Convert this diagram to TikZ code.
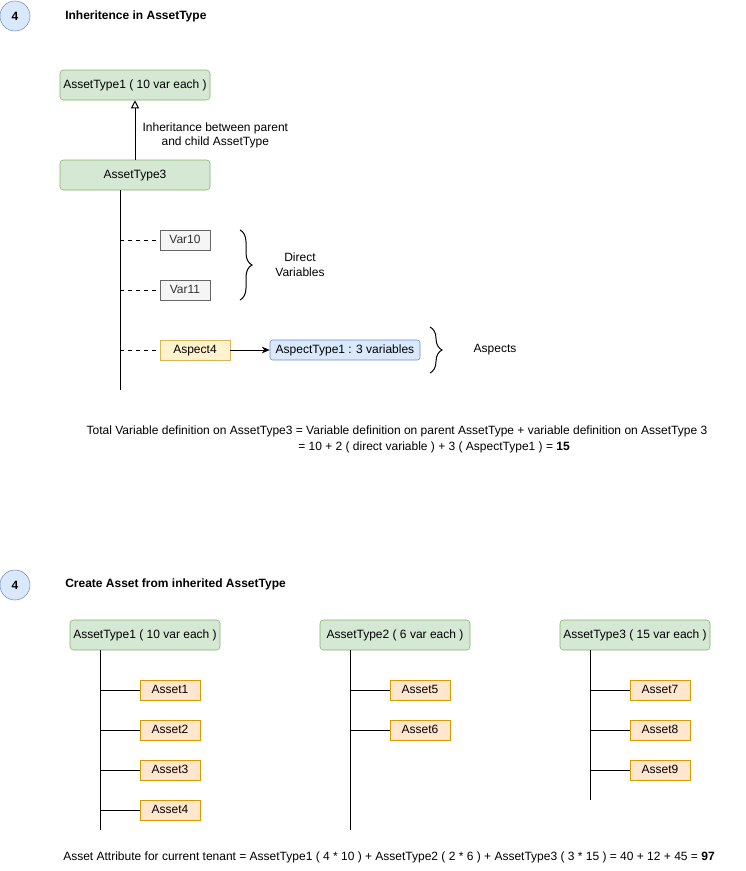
\documentclass[tikz,border=0pt]{standalone}
\usepackage{fontspec}
\setmainfont{Liberation Sans}
\usetikzlibrary{arrows.meta,positioning,decorations.pathreplacing}
\definecolor{typefill}{HTML}{D5E8D4}
\definecolor{typeline}{HTML}{82B366}
\definecolor{aspfill}{HTML}{FFF2CC}
\definecolor{aspline}{HTML}{D6B656}
\definecolor{bluefill}{HTML}{DAE8FC}
\definecolor{blueline}{HTML}{6C8EBF}
\definecolor{varfill}{HTML}{F5F5F5}
\definecolor{varline}{HTML}{666666}
\definecolor{vartext}{HTML}{333333}
\definecolor{assetfill}{HTML}{FFE6CC}
\definecolor{assetline}{HTML}{D79B00}

\begin{document}
\begin{tikzpicture}[
    x=0.75pt, y=-0.75pt,
    font=\fontsize{9pt}{11pt}\selectfont,
    boxtext/.style={inner sep=0pt, text height=6.6pt, text depth=1.6pt},
    typebox/.style={rectangle, rounded corners=2.5pt, draw=typeline, fill=typefill, minimum width=112.5pt, minimum height=22.5pt, boxtext},
    varbox/.style={rectangle, draw=varline, fill=varfill, text=vartext, minimum width=37.5pt, minimum height=15pt, boxtext},
    aspbox/.style={rectangle, draw=aspline, fill=aspfill, minimum width=52.5pt, minimum height=15pt, boxtext},
    asptype/.style={rectangle, rounded corners=2pt, draw=blueline, fill=bluefill, minimum width=112.5pt, minimum height=15pt, boxtext},
    assetbox/.style={rectangle, draw=assetline, fill=assetfill, minimum width=45pt, minimum height=15pt, boxtext},
    stepnum/.style={circle, draw=blueline, fill=bluefill, minimum size=22.5pt, inner sep=0pt, font=\fontsize{9pt}{11pt}\selectfont\bfseries},
    heading/.style={anchor=west, inner sep=0pt, font=\fontsize{9pt}{11pt}\selectfont\bfseries},
    curly/.style={decorate, decoration={brace, amplitude=9pt}, line width=0.75pt},
    trunk/.style={line width=0.75pt},
    arrow/.style={-{Stealth[length=6pt,width=5pt]}, line width=0.75pt}
]
\useasboundingbox (0,0) rectangle (746,871);

% inheritance part
\node[stepnum] (num1) at (15,16) {4};
\node[heading] (title1) at (65,16) {Inheritence in AssetType};

\node[typebox] (at1) at (135,85) {AssetType1 ( 10 var each )};
\node[typebox] (at3) at (135,175) {AssetType3};
\draw[-{Triangle[open,length=6pt,width=6pt]}, line width=0.75pt] (at3) -- (at1)
    node[midway, right=2pt, yshift=-4pt, align=center] {Inheritance between parent\\and child AssetType};

\coordinate (t1) at (120,390);
\draw[trunk] (at3.south -| t1) -- (t1);

\node[varbox] (var10) at (185,240) {Var10};
\node[varbox] (var11) at (185,290) {Var11};
\node[aspbox] (asp4) at (195,350) {Aspect4};
\node[asptype] (aspt1) at (345,350) {AspectType1 : 3 variables};

\draw[dashed] (var10.west -| t1) -- (var10.west);
\draw[dashed] (var11.west -| t1) -- (var11.west);
\draw[dashed] (asp4.west -| t1) -- (asp4.west);
\draw[arrow] (asp4) -- (aspt1);

\coordinate (b1top) at (240,230);
\coordinate (b1bot) at (240,300);
\draw[curly] (b1top) -- (b1bot);
\node[align=center] (direct) at (300,265) {Direct\\Variables};

\coordinate (b2top) at (430,327);
\coordinate (b2bot) at (430,373);
\draw[curly] (b2top) -- (b2bot);
\node (aspects) at (495,350) {Aspects};

\node (total) at (397,431) {Total Variable definition on AssetType3 = Variable definition on parent AssetType + variable definition on AssetType 3};
\node (total2) at (434,447) {= 10 + 2 ( direct variable ) + 3 ( AspectType1 ) = \textbf{15}};

% asset part
\node[stepnum] (num2) at (15,585) {4};
\node[heading] (title2) at (65,584) {Create Asset from inherited AssetType};

\node[typebox] (ta1) at (145,635) {AssetType1 ( 10 var each )};
\node[typebox] (ta2) at (395,635) {AssetType2 ( 6 var each )};
\node[typebox] (ta3) at (635,635) {AssetType3 ( 15 var each )};

\coordinate (t2) at (100,830);
\coordinate (t3) at (350,830);
\coordinate (t4) at (590,800);
\draw[trunk] (ta1.south -| t2) -- (t2);
\draw[trunk] (ta2.south -| t3) -- (t3);
\draw[trunk] (ta3.south -| t4) -- (t4);

\node[assetbox] (a1) at (170,690) {Asset1};
\node[assetbox] (a2) at (170,730) {Asset2};
\node[assetbox] (a3) at (170,770) {Asset3};
\node[assetbox] (a4) at (170,810) {Asset4};
\node[assetbox] (a5) at (420,690) {Asset5};
\node[assetbox] (a6) at (420,730) {Asset6};
\node[assetbox] (a7) at (660,690) {Asset7};
\node[assetbox] (a8) at (660,730) {Asset8};
\node[assetbox] (a9) at (660,770) {Asset9};

\draw[trunk] (a1.west -| t2) -- (a1.west);
\draw[trunk] (a2.west -| t2) -- (a2.west);
\draw[trunk] (a3.west -| t2) -- (a3.west);
\draw[trunk] (a4.west -| t2) -- (a4.west);
\draw[trunk] (a5.west -| t3) -- (a5.west);
\draw[trunk] (a6.west -| t3) -- (a6.west);
\draw[trunk] (a7.west -| t4) -- (a7.west);
\draw[trunk] (a8.west -| t4) -- (a8.west);
\draw[trunk] (a9.west -| t4) -- (a9.west);

\node (attr) at (389,857) {Asset Attribute for current tenant = AssetType1 ( 4 * 10 ) + AssetType2 ( 2 * 6 ) + AssetType3 ( 3 * 15 ) = 40 + 12 + 45 = \textbf{97}};
\end{tikzpicture}
\end{document}
